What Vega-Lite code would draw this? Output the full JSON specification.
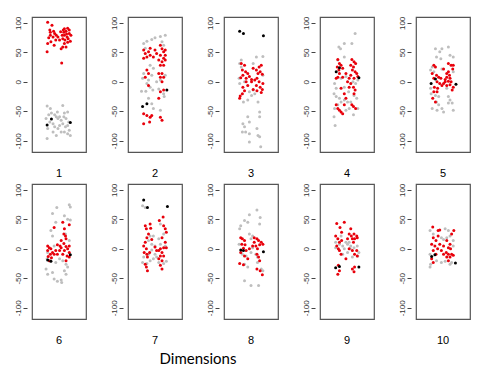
{
  "$schema": "https://vega.github.io/schema/vega-lite/v6.json",
  "padding": {"left": 13, "top": 15, "right": 5, "bottom": 5},
  "background": "white",
  "title": {"text": "Dimensions", "orient": "bottom", "anchor": "middle", "dx": -44, "font": "Lato", "fontSize": 15, "fontWeight": "normal", "color": "#000000", "offset": 5},
  "data": {"values": [
    {"d":1,"c":"g","x":0.28,"y":-41},{"d":1,"c":"g","x":0.34,"y":-45},{"d":1,"c":"g","x":0.57,"y":-40},{"d":1,"c":"g","x":0.66,"y":-51},{"d":1,"c":"g","x":0.36,"y":-53},{"d":1,"c":"g","x":0.42,"y":-56},{"d":1,"c":"g","x":0.45,"y":-59},{"d":1,"c":"g","x":0.48,"y":-62},{"d":1,"c":"g","x":0.51,"y":-59},{"d":1,"c":"g","x":0.54,"y":-65},{"d":1,"c":"g","x":0.60,"y":-53},{"d":1,"c":"g","x":0.63,"y":-62},{"d":1,"c":"g","x":0.57,"y":-71},{"d":1,"c":"g","x":0.62,"y":-76},{"d":1,"c":"g","x":0.66,"y":-74},{"d":1,"c":"g","x":0.69,"y":-82},{"d":1,"c":"g","x":0.71,"y":-91},{"d":1,"c":"g","x":0.54,"y":-85},{"d":1,"c":"g","x":0.48,"y":-79},{"d":1,"c":"g","x":0.42,"y":-76},{"d":1,"c":"g","x":0.39,"y":-85},{"d":1,"c":"g","x":0.29,"y":-79},{"d":1,"c":"g","x":0.28,"y":-96},{"d":1,"c":"g","x":0.45,"y":-91},{"d":1,"c":"g","x":0.33,"y":-68},{"d":1,"c":"g","x":0.26,"y":-62},{"d":1,"c":"g","x":0.39,"y":-71},{"d":1,"c":"g","x":0.51,"y":-74},{"d":1,"c":"g","x":0.60,"y":-85},{"d":1,"c":"g","x":0.66,"y":-88},{"d":1,"c":"g","x":0.47,"y":-51},{"d":1,"c":"g","x":0.59,"y":-59},{"d":1,"c":"g","x":0.68,"y":-68},{"d":1,"c":"g","x":0.31,"y":-56},
    {"d":1,"c":"r","x":0.29,"y":101},{"d":1,"c":"r","x":0.37,"y":96},{"d":1,"c":"r","x":0.33,"y":88},{"d":1,"c":"r","x":0.40,"y":86},{"d":1,"c":"r","x":0.42,"y":82},{"d":1,"c":"r","x":0.34,"y":79},{"d":1,"c":"r","x":0.31,"y":75},{"d":1,"c":"r","x":0.39,"y":76},{"d":1,"c":"r","x":0.45,"y":79},{"d":1,"c":"r","x":0.35,"y":68},{"d":1,"c":"r","x":0.41,"y":62},{"d":1,"c":"r","x":0.29,"y":65},{"d":1,"c":"r","x":0.28,"y":51},{"d":1,"c":"r","x":0.51,"y":71},{"d":1,"c":"r","x":0.53,"y":85},{"d":1,"c":"r","x":0.58,"y":88},{"d":1,"c":"r","x":0.60,"y":90},{"d":1,"c":"r","x":0.63,"y":86},{"d":1,"c":"r","x":0.66,"y":91},{"d":1,"c":"r","x":0.69,"y":88},{"d":1,"c":"r","x":0.60,"y":79},{"d":1,"c":"r","x":0.65,"y":76},{"d":1,"c":"r","x":0.57,"y":73},{"d":1,"c":"r","x":0.61,"y":71},{"d":1,"c":"r","x":0.67,"y":73},{"d":1,"c":"r","x":0.71,"y":69},{"d":1,"c":"r","x":0.66,"y":67},{"d":1,"c":"r","x":0.60,"y":65},{"d":1,"c":"r","x":0.57,"y":59},{"d":1,"c":"r","x":0.63,"y":59},{"d":1,"c":"r","x":0.54,"y":56},{"d":1,"c":"r","x":0.55,"y":32},{"d":1,"c":"r","x":0.48,"y":76},{"d":1,"c":"r","x":0.44,"y":71},{"d":1,"c":"r","x":0.34,"y":84},{"d":1,"c":"r","x":0.69,"y":82},{"d":1,"c":"r","x":0.56,"y":79},{"d":1,"c":"r","x":0.72,"y":79},{"d":1,"c":"r","x":0.64,"y":81},{"d":1,"c":"r","x":0.59,"y":84},
    {"d":1,"c":"k","x":0.28,"y":-73},{"d":1,"c":"k","x":0.36,"y":-63},{"d":1,"c":"k","x":0.71,"y":-69},

    {"d":2,"c":"g","x":0.29,"y":65},{"d":2,"c":"g","x":0.35,"y":69},{"d":2,"c":"g","x":0.44,"y":72},{"d":2,"c":"g","x":0.50,"y":75},{"d":2,"c":"g","x":0.60,"y":77},{"d":2,"c":"g","x":0.69,"y":79},{"d":2,"c":"g","x":0.66,"y":62},{"d":2,"c":"g","x":0.63,"y":68},{"d":2,"c":"g","x":0.32,"y":57},{"d":2,"c":"g","x":0.41,"y":28},{"d":2,"c":"g","x":0.47,"y":23},{"d":2,"c":"g","x":0.29,"y":14},{"d":2,"c":"g","x":0.27,"y":6},{"d":2,"c":"g","x":0.38,"y":3},{"d":2,"c":"g","x":0.44,"y":11},{"d":2,"c":"g","x":0.35,"y":-3},{"d":2,"c":"g","x":0.41,"y":-9},{"d":2,"c":"g","x":0.25,"y":-16},{"d":2,"c":"g","x":0.33,"y":-16},{"d":2,"c":"g","x":0.46,"y":-14},{"d":2,"c":"g","x":0.53,"y":0},{"d":2,"c":"g","x":0.60,"y":3},{"d":2,"c":"g","x":0.66,"y":-20},{"d":2,"c":"g","x":0.67,"y":-25},{"d":2,"c":"g","x":0.44,"y":-37},{"d":2,"c":"g","x":0.47,"y":-45},{"d":2,"c":"g","x":0.60,"y":-48},{"d":2,"c":"g","x":0.38,"y":-28},{"d":2,"c":"g","x":0.69,"y":11},{"d":2,"c":"g","x":0.57,"y":-12},
    {"d":2,"c":"r","x":0.29,"y":54},{"d":2,"c":"r","x":0.32,"y":48},{"d":2,"c":"r","x":0.35,"y":42},{"d":2,"c":"r","x":0.38,"y":51},{"d":2,"c":"r","x":0.41,"y":45},{"d":2,"c":"r","x":0.29,"y":40},{"d":2,"c":"r","x":0.50,"y":54},{"d":2,"c":"r","x":0.53,"y":48},{"d":2,"c":"r","x":0.60,"y":62},{"d":2,"c":"r","x":0.63,"y":56},{"d":2,"c":"r","x":0.66,"y":51},{"d":2,"c":"r","x":0.69,"y":54},{"d":2,"c":"r","x":0.60,"y":45},{"d":2,"c":"r","x":0.66,"y":40},{"d":2,"c":"r","x":0.63,"y":34},{"d":2,"c":"r","x":0.69,"y":37},{"d":2,"c":"r","x":0.57,"y":37},{"d":2,"c":"r","x":0.60,"y":28},{"d":2,"c":"r","x":0.66,"y":28},{"d":2,"c":"r","x":0.35,"y":20},{"d":2,"c":"r","x":0.38,"y":14},{"d":2,"c":"r","x":0.32,"y":8},{"d":2,"c":"r","x":0.57,"y":14},{"d":2,"c":"r","x":0.63,"y":14},{"d":2,"c":"r","x":0.66,"y":8},{"d":2,"c":"r","x":0.60,"y":8},{"d":2,"c":"r","x":0.63,"y":0},{"d":2,"c":"r","x":0.60,"y":-17},{"d":2,"c":"r","x":0.66,"y":-14},{"d":2,"c":"r","x":0.38,"y":-6},{"d":2,"c":"r","x":0.57,"y":-28},{"d":2,"c":"r","x":0.29,"y":-54},{"d":2,"c":"r","x":0.35,"y":-57},{"d":2,"c":"r","x":0.41,"y":-60},{"d":2,"c":"r","x":0.44,"y":-57},{"d":2,"c":"r","x":0.60,"y":-60},{"d":2,"c":"r","x":0.63,"y":-65},{"d":2,"c":"r","x":0.29,"y":-71},{"d":2,"c":"r","x":0.40,"y":-68},{"d":2,"c":"r","x":0.47,"y":42},{"d":2,"c":"r","x":0.41,"y":57},{"d":2,"c":"r","x":0.69,"y":45},
    {"d":2,"c":"k","x":0.72,"y":-14},{"d":2,"c":"k","x":0.35,"y":-37},{"d":2,"c":"k","x":0.27,"y":-42},

    {"d":3,"c":"g","x":0.29,"y":31},{"d":3,"c":"g","x":0.32,"y":25},{"d":3,"c":"g","x":0.60,"y":42},{"d":3,"c":"g","x":0.72,"y":43},{"d":3,"c":"g","x":0.54,"y":31},{"d":3,"c":"g","x":0.38,"y":0},{"d":3,"c":"g","x":0.29,"y":-3},{"d":3,"c":"g","x":0.28,"y":6},{"d":3,"c":"g","x":0.47,"y":-17},{"d":3,"c":"g","x":0.54,"y":-14},{"d":3,"c":"g","x":0.57,"y":-20},{"d":3,"c":"g","x":0.36,"y":-34},{"d":3,"c":"g","x":0.44,"y":-31},{"d":3,"c":"g","x":0.63,"y":-34},{"d":3,"c":"g","x":0.66,"y":-51},{"d":3,"c":"g","x":0.66,"y":-59},{"d":3,"c":"g","x":0.44,"y":-59},{"d":3,"c":"g","x":0.47,"y":-68},{"d":3,"c":"g","x":0.35,"y":-71},{"d":3,"c":"g","x":0.38,"y":-76},{"d":3,"c":"g","x":0.34,"y":-85},{"d":3,"c":"g","x":0.40,"y":-85},{"d":3,"c":"g","x":0.47,"y":-88},{"d":3,"c":"g","x":0.61,"y":-79},{"d":3,"c":"g","x":0.63,"y":-91},{"d":3,"c":"g","x":0.66,"y":-93},{"d":3,"c":"g","x":0.47,"y":-102},{"d":3,"c":"g","x":0.68,"y":-110},{"d":3,"c":"g","x":0.72,"y":11},{"d":3,"c":"g","x":0.32,"y":37},{"d":3,"c":"g","x":0.51,"y":-23},
    {"d":3,"c":"r","x":0.32,"y":31},{"d":3,"c":"r","x":0.38,"y":28},{"d":3,"c":"r","x":0.34,"y":20},{"d":3,"c":"r","x":0.40,"y":17},{"d":3,"c":"r","x":0.44,"y":14},{"d":3,"c":"r","x":0.35,"y":11},{"d":3,"c":"r","x":0.31,"y":7},{"d":3,"c":"r","x":0.41,"y":6},{"d":3,"c":"r","x":0.47,"y":9},{"d":3,"c":"r","x":0.54,"y":23},{"d":3,"c":"r","x":0.60,"y":20},{"d":3,"c":"r","x":0.63,"y":14},{"d":3,"c":"r","x":0.67,"y":17},{"d":3,"c":"r","x":0.71,"y":13},{"d":3,"c":"r","x":0.65,"y":25},{"d":3,"c":"r","x":0.69,"y":28},{"d":3,"c":"r","x":0.61,"y":6},{"d":3,"c":"r","x":0.65,"y":0},{"d":3,"c":"r","x":0.60,"y":-6},{"d":3,"c":"r","x":0.67,"y":-9},{"d":3,"c":"r","x":0.71,"y":-13},{"d":3,"c":"r","x":0.61,"y":-15},{"d":3,"c":"r","x":0.69,"y":-18},{"d":3,"c":"r","x":0.51,"y":0},{"d":3,"c":"r","x":0.44,"y":-6},{"d":3,"c":"r","x":0.35,"y":-9},{"d":3,"c":"r","x":0.38,"y":-15},{"d":3,"c":"r","x":0.34,"y":-20},{"d":3,"c":"r","x":0.30,"y":-24},{"d":3,"c":"r","x":0.29,"y":-28},{"d":3,"c":"r","x":0.51,"y":4},{"d":3,"c":"r","x":0.57,"y":3},{"d":3,"c":"r","x":0.72,"y":-3},{"d":3,"c":"r","x":0.54,"y":-13},{"d":3,"c":"r","x":0.41,"y":0},
    {"d":3,"c":"k","x":0.29,"y":86},{"d":3,"c":"k","x":0.36,"y":82},{"d":3,"c":"k","x":0.73,"y":78},

    {"d":4,"c":"g","x":0.65,"y":82},{"d":4,"c":"g","x":0.45,"y":65},{"d":4,"c":"g","x":0.59,"y":65},{"d":4,"c":"g","x":0.35,"y":59},{"d":4,"c":"g","x":0.38,"y":56},{"d":4,"c":"g","x":0.45,"y":42},{"d":4,"c":"g","x":0.33,"y":37},{"d":4,"c":"g","x":0.27,"y":-3},{"d":4,"c":"g","x":0.30,"y":-11},{"d":4,"c":"g","x":0.26,"y":-20},{"d":4,"c":"g","x":0.30,"y":-25},{"d":4,"c":"g","x":0.36,"y":-28},{"d":4,"c":"g","x":0.39,"y":-34},{"d":4,"c":"g","x":0.45,"y":-31},{"d":4,"c":"g","x":0.51,"y":-34},{"d":4,"c":"g","x":0.33,"y":-39},{"d":4,"c":"g","x":0.27,"y":-45},{"d":4,"c":"g","x":0.26,"y":-59},{"d":4,"c":"g","x":0.28,"y":-74},{"d":4,"c":"g","x":0.48,"y":-48},{"d":4,"c":"g","x":0.54,"y":-45},{"d":4,"c":"g","x":0.62,"y":-56},{"d":4,"c":"g","x":0.57,"y":-34},{"d":4,"c":"g","x":0.63,"y":-23},{"d":4,"c":"g","x":0.68,"y":-28},{"d":4,"c":"g","x":0.70,"y":-45},{"d":4,"c":"g","x":0.66,"y":-3},{"d":4,"c":"g","x":0.61,"y":0},{"d":4,"c":"g","x":0.70,"y":3},{"d":4,"c":"g","x":0.45,"y":-9},{"d":4,"c":"g","x":0.39,"y":6},{"d":4,"c":"g","x":0.48,"y":9},{"d":4,"c":"g","x":0.53,"y":-17},
    {"d":4,"c":"r","x":0.33,"y":38},{"d":4,"c":"r","x":0.36,"y":31},{"d":4,"c":"r","x":0.32,"y":25},{"d":4,"c":"r","x":0.39,"y":28},{"d":4,"c":"r","x":0.42,"y":23},{"d":4,"c":"r","x":0.36,"y":14},{"d":4,"c":"r","x":0.33,"y":8},{"d":4,"c":"r","x":0.30,"y":6},{"d":4,"c":"r","x":0.42,"y":8},{"d":4,"c":"r","x":0.48,"y":14},{"d":4,"c":"r","x":0.54,"y":6},{"d":4,"c":"r","x":0.57,"y":-3},{"d":4,"c":"r","x":0.62,"y":-9},{"d":4,"c":"r","x":0.65,"y":-14},{"d":4,"c":"r","x":0.63,"y":-20},{"d":4,"c":"r","x":0.59,"y":38},{"d":4,"c":"r","x":0.63,"y":34},{"d":4,"c":"r","x":0.57,"y":28},{"d":4,"c":"r","x":0.62,"y":25},{"d":4,"c":"r","x":0.66,"y":31},{"d":4,"c":"r","x":0.60,"y":20},{"d":4,"c":"r","x":0.65,"y":17},{"d":4,"c":"r","x":0.68,"y":14},{"d":4,"c":"r","x":0.70,"y":9},{"d":4,"c":"r","x":0.57,"y":11},{"d":4,"c":"r","x":0.51,"y":0},{"d":4,"c":"r","x":0.30,"y":-39},{"d":4,"c":"r","x":0.33,"y":-45},{"d":4,"c":"r","x":0.36,"y":-48},{"d":4,"c":"r","x":0.39,"y":-51},{"d":4,"c":"r","x":0.42,"y":-54},{"d":4,"c":"r","x":0.45,"y":-39},{"d":4,"c":"r","x":0.59,"y":-39},{"d":4,"c":"r","x":0.62,"y":-42},{"d":4,"c":"r","x":0.66,"y":-45},{"d":4,"c":"r","x":0.54,"y":-9},{"d":4,"c":"r","x":0.45,"y":-20},{"d":4,"c":"r","x":0.48,"y":-28},{"d":4,"c":"r","x":0.39,"y":-11},{"d":4,"c":"r","x":0.63,"y":6},{"d":4,"c":"r","x":0.35,"y":20},
    {"d":4,"c":"k","x":0.30,"y":17},{"d":4,"c":"k","x":0.36,"y":24},{"d":4,"c":"k","x":0.72,"y":7},

    {"d":5,"c":"g","x":0.36,"y":56},{"d":5,"c":"g","x":0.44,"y":51},{"d":5,"c":"g","x":0.48,"y":56},{"d":5,"c":"g","x":0.60,"y":59},{"d":5,"c":"g","x":0.38,"y":42},{"d":5,"c":"g","x":0.46,"y":39},{"d":5,"c":"g","x":0.63,"y":45},{"d":5,"c":"g","x":0.69,"y":42},{"d":5,"c":"g","x":0.30,"y":25},{"d":5,"c":"g","x":0.27,"y":20},{"d":5,"c":"g","x":0.33,"y":17},{"d":5,"c":"g","x":0.27,"y":-11},{"d":5,"c":"g","x":0.28,"y":-20},{"d":5,"c":"g","x":0.36,"y":-23},{"d":5,"c":"g","x":0.42,"y":-25},{"d":5,"c":"g","x":0.38,"y":-34},{"d":5,"c":"g","x":0.42,"y":-39},{"d":5,"c":"g","x":0.30,"y":-45},{"d":5,"c":"g","x":0.39,"y":-48},{"d":5,"c":"g","x":0.48,"y":-45},{"d":5,"c":"g","x":0.51,"y":-51},{"d":5,"c":"g","x":0.60,"y":-25},{"d":5,"c":"g","x":0.63,"y":-31},{"d":5,"c":"g","x":0.67,"y":-36},{"d":5,"c":"g","x":0.60,"y":-36},{"d":5,"c":"g","x":0.69,"y":-48},{"d":5,"c":"g","x":0.57,"y":-11},{"d":5,"c":"g","x":0.48,"y":22},{"d":5,"c":"g","x":0.69,"y":17},
    {"d":5,"c":"r","x":0.33,"y":28},{"d":5,"c":"r","x":0.36,"y":25},{"d":5,"c":"r","x":0.30,"y":14},{"d":5,"c":"r","x":0.38,"y":11},{"d":5,"c":"r","x":0.42,"y":8},{"d":5,"c":"r","x":0.33,"y":6},{"d":5,"c":"r","x":0.39,"y":0},{"d":5,"c":"r","x":0.44,"y":-3},{"d":5,"c":"r","x":0.34,"y":-9},{"d":5,"c":"r","x":0.40,"y":-11},{"d":5,"c":"r","x":0.33,"y":-17},{"d":5,"c":"r","x":0.39,"y":-17},{"d":5,"c":"r","x":0.31,"y":-28},{"d":5,"c":"r","x":0.36,"y":-34},{"d":5,"c":"r","x":0.51,"y":22},{"d":5,"c":"r","x":0.60,"y":31},{"d":5,"c":"r","x":0.65,"y":28},{"d":5,"c":"r","x":0.69,"y":28},{"d":5,"c":"r","x":0.68,"y":22},{"d":5,"c":"r","x":0.57,"y":14},{"d":5,"c":"r","x":0.62,"y":11},{"d":5,"c":"r","x":0.57,"y":8},{"d":5,"c":"r","x":0.63,"y":6},{"d":5,"c":"r","x":0.60,"y":1},{"d":5,"c":"r","x":0.54,"y":0},{"d":5,"c":"r","x":0.65,"y":0},{"d":5,"c":"r","x":0.63,"y":-5},{"d":5,"c":"r","x":0.57,"y":-6},{"d":5,"c":"r","x":0.51,"y":-3},{"d":5,"c":"r","x":0.69,"y":-9},{"d":5,"c":"r","x":0.67,"y":-14},{"d":5,"c":"r","x":0.48,"y":-6},{"d":5,"c":"r","x":0.54,"y":4},{"d":5,"c":"r","x":0.60,"y":17},{"d":5,"c":"r","x":0.46,"y":6},
    {"d":5,"c":"k","x":0.28,"y":-3},{"d":5,"c":"k","x":0.36,"y":5},{"d":5,"c":"k","x":0.74,"y":-4},

    {"d":6,"c":"g","x":0.46,"y":70},{"d":6,"c":"g","x":0.69,"y":75},{"d":6,"c":"g","x":0.71,"y":71},{"d":6,"c":"g","x":0.38,"y":60},{"d":6,"c":"g","x":0.60,"y":56},{"d":6,"c":"g","x":0.44,"y":45},{"d":6,"c":"g","x":0.66,"y":50},{"d":6,"c":"g","x":0.71,"y":49},{"d":6,"c":"g","x":0.35,"y":31},{"d":6,"c":"g","x":0.38,"y":22},{"d":6,"c":"g","x":0.29,"y":-6},{"d":6,"c":"g","x":0.28,"y":-17},{"d":6,"c":"g","x":0.35,"y":-20},{"d":6,"c":"g","x":0.44,"y":-23},{"d":6,"c":"g","x":0.51,"y":-17},{"d":6,"c":"g","x":0.57,"y":-20},{"d":6,"c":"g","x":0.63,"y":-26},{"d":6,"c":"g","x":0.26,"y":-34},{"d":6,"c":"g","x":0.29,"y":-43},{"d":6,"c":"g","x":0.38,"y":-40},{"d":6,"c":"g","x":0.41,"y":-51},{"d":6,"c":"g","x":0.47,"y":-55},{"d":6,"c":"g","x":0.54,"y":-53},{"d":6,"c":"g","x":0.55,"y":-57},{"d":6,"c":"g","x":0.60,"y":-37},{"d":6,"c":"g","x":0.63,"y":-43},{"d":6,"c":"g","x":0.66,"y":-31},{"d":6,"c":"g","x":0.69,"y":14},{"d":6,"c":"g","x":0.62,"y":25},{"d":6,"c":"g","x":0.41,"y":5},
    {"d":6,"c":"r","x":0.41,"y":36},{"d":6,"c":"r","x":0.57,"y":45},{"d":6,"c":"r","x":0.69,"y":41},{"d":6,"c":"r","x":0.60,"y":34},{"d":6,"c":"r","x":0.59,"y":25},{"d":6,"c":"r","x":0.62,"y":22},{"d":6,"c":"r","x":0.63,"y":17},{"d":6,"c":"r","x":0.54,"y":14},{"d":6,"c":"r","x":0.59,"y":9},{"d":6,"c":"r","x":0.52,"y":5},{"d":6,"c":"r","x":0.63,"y":4},{"d":6,"c":"r","x":0.69,"y":5},{"d":6,"c":"r","x":0.66,"y":0},{"d":6,"c":"r","x":0.60,"y":-3},{"d":6,"c":"r","x":0.69,"y":-6},{"d":6,"c":"r","x":0.65,"y":-12},{"d":6,"c":"r","x":0.69,"y":-14},{"d":6,"c":"r","x":0.63,"y":-20},{"d":6,"c":"r","x":0.57,"y":-9},{"d":6,"c":"r","x":0.51,"y":-3},{"d":6,"c":"r","x":0.47,"y":-9},{"d":6,"c":"r","x":0.29,"y":5},{"d":6,"c":"r","x":0.32,"y":2},{"d":6,"c":"r","x":0.35,"y":0},{"d":6,"c":"r","x":0.29,"y":-3},{"d":6,"c":"r","x":0.38,"y":-6},{"d":6,"c":"r","x":0.34,"y":-9},{"d":6,"c":"r","x":0.41,"y":-9},{"d":6,"c":"r","x":0.30,"y":-13},{"d":6,"c":"r","x":0.36,"y":-15},{"d":6,"c":"r","x":0.44,"y":-3},{"d":6,"c":"r","x":0.32,"y":-20},{"d":6,"c":"r","x":0.54,"y":2},{"d":6,"c":"r","x":0.47,"y":7},
    {"d":6,"c":"k","x":0.29,"y":-19},{"d":6,"c":"k","x":0.35,"y":-21},{"d":6,"c":"k","x":0.71,"y":-10},

    {"d":7,"c":"g","x":0.27,"y":73},{"d":7,"c":"g","x":0.32,"y":70},{"d":7,"c":"g","x":0.47,"y":22},{"d":7,"c":"g","x":0.57,"y":17},{"d":7,"c":"g","x":0.66,"y":25},{"d":7,"c":"g","x":0.38,"y":14},{"d":7,"c":"g","x":0.44,"y":8},{"d":7,"c":"g","x":0.50,"y":5},{"d":7,"c":"g","x":0.60,"y":8},{"d":7,"c":"g","x":0.69,"y":5},{"d":7,"c":"g","x":0.29,"y":-14},{"d":7,"c":"g","x":0.27,"y":-23},{"d":7,"c":"g","x":0.35,"y":-25},{"d":7,"c":"g","x":0.41,"y":-20},{"d":7,"c":"g","x":0.47,"y":-17},{"d":7,"c":"g","x":0.53,"y":-14},{"d":7,"c":"g","x":0.57,"y":-23},{"d":7,"c":"g","x":0.66,"y":-25},{"d":7,"c":"g","x":0.71,"y":-21},{"d":7,"c":"g","x":0.38,"y":-9},{"d":7,"c":"g","x":0.44,"y":-2},{"d":7,"c":"g","x":0.50,"y":-9},{"d":7,"c":"g","x":0.41,"y":22},{"d":7,"c":"g","x":0.60,"y":42},
    {"d":7,"c":"r","x":0.32,"y":39},{"d":7,"c":"r","x":0.34,"y":34},{"d":7,"c":"r","x":0.41,"y":42},{"d":7,"c":"r","x":0.42,"y":35},{"d":7,"c":"r","x":0.38,"y":25},{"d":7,"c":"r","x":0.35,"y":19},{"d":7,"c":"r","x":0.32,"y":11},{"d":7,"c":"r","x":0.29,"y":5},{"d":7,"c":"r","x":0.34,"y":0},{"d":7,"c":"r","x":0.30,"y":-6},{"d":7,"c":"r","x":0.35,"y":-9},{"d":7,"c":"r","x":0.40,"y":-6},{"d":7,"c":"r","x":0.36,"y":-14},{"d":7,"c":"r","x":0.32,"y":-26},{"d":7,"c":"r","x":0.34,"y":-31},{"d":7,"c":"r","x":0.36,"y":-37},{"d":7,"c":"r","x":0.65,"y":54},{"d":7,"c":"r","x":0.66,"y":39},{"d":7,"c":"r","x":0.69,"y":34},{"d":7,"c":"r","x":0.71,"y":28},{"d":7,"c":"r","x":0.63,"y":19},{"d":7,"c":"r","x":0.69,"y":11},{"d":7,"c":"r","x":0.66,"y":2},{"d":7,"c":"r","x":0.71,"y":2},{"d":7,"c":"r","x":0.60,"y":0},{"d":7,"c":"r","x":0.57,"y":-3},{"d":7,"c":"r","x":0.63,"y":-6},{"d":7,"c":"r","x":0.60,"y":-12},{"d":7,"c":"r","x":0.66,"y":-12},{"d":7,"c":"r","x":0.57,"y":-17},{"d":7,"c":"r","x":0.63,"y":-20},{"d":7,"c":"r","x":0.60,"y":-28},{"d":7,"c":"r","x":0.63,"y":-34},{"d":7,"c":"r","x":0.53,"y":-3},{"d":7,"c":"r","x":0.50,"y":3},{"d":7,"c":"r","x":0.44,"y":16},{"d":7,"c":"r","x":0.58,"y":48},
    {"d":7,"c":"k","x":0.29,"y":83},{"d":7,"c":"k","x":0.36,"y":70},{"d":7,"c":"k","x":0.73,"y":72},

    {"d":8,"c":"g","x":0.61,"y":66},{"d":8,"c":"g","x":0.67,"y":53},{"d":8,"c":"g","x":0.47,"y":58},{"d":8,"c":"g","x":0.38,"y":48},{"d":8,"c":"g","x":0.31,"y":39},{"d":8,"c":"g","x":0.29,"y":34},{"d":8,"c":"g","x":0.44,"y":45},{"d":8,"c":"g","x":0.66,"y":42},{"d":8,"c":"g","x":0.47,"y":25},{"d":8,"c":"g","x":0.53,"y":22},{"d":8,"c":"g","x":0.50,"y":17},{"d":8,"c":"g","x":0.28,"y":8},{"d":8,"c":"g","x":0.34,"y":-9},{"d":8,"c":"g","x":0.41,"y":-12},{"d":8,"c":"g","x":0.50,"y":-6},{"d":8,"c":"g","x":0.59,"y":-9},{"d":8,"c":"g","x":0.62,"y":-14},{"d":8,"c":"g","x":0.38,"y":-26},{"d":8,"c":"g","x":0.44,"y":-31},{"d":8,"c":"g","x":0.69,"y":-34},{"d":8,"c":"g","x":0.72,"y":-37},{"d":8,"c":"g","x":0.62,"y":-23},{"d":8,"c":"g","x":0.38,"y":-54},{"d":8,"c":"g","x":0.50,"y":-62},{"d":8,"c":"g","x":0.64,"y":-62},{"d":8,"c":"g","x":0.53,"y":2},
    {"d":8,"c":"r","x":0.31,"y":19},{"d":8,"c":"r","x":0.34,"y":17},{"d":8,"c":"r","x":0.38,"y":14},{"d":8,"c":"r","x":0.33,"y":8},{"d":8,"c":"r","x":0.39,"y":7},{"d":8,"c":"r","x":0.36,"y":1},{"d":8,"c":"r","x":0.41,"y":-3},{"d":8,"c":"r","x":0.31,"y":-6},{"d":8,"c":"r","x":0.38,"y":-12},{"d":8,"c":"r","x":0.44,"y":-17},{"d":8,"c":"r","x":0.29,"y":-25},{"d":8,"c":"r","x":0.36,"y":-27},{"d":8,"c":"r","x":0.56,"y":19},{"d":8,"c":"r","x":0.61,"y":17},{"d":8,"c":"r","x":0.64,"y":14},{"d":8,"c":"r","x":0.69,"y":11},{"d":8,"c":"r","x":0.72,"y":8},{"d":8,"c":"r","x":0.66,"y":7},{"d":8,"c":"r","x":0.59,"y":5},{"d":8,"c":"r","x":0.56,"y":11},{"d":8,"c":"r","x":0.62,"y":0},{"d":8,"c":"r","x":0.61,"y":-9},{"d":8,"c":"r","x":0.64,"y":-14},{"d":8,"c":"r","x":0.66,"y":-20},{"d":8,"c":"r","x":0.61,"y":-34},{"d":8,"c":"r","x":0.67,"y":-37},{"d":8,"c":"r","x":0.71,"y":-44},{"d":8,"c":"r","x":0.53,"y":5},{"d":8,"c":"r","x":0.47,"y":0},
    {"d":8,"c":"k","x":0.31,"y":-2},{"d":8,"c":"k","x":0.36,"y":-3},{"d":8,"c":"k","x":0.73,"y":-5},

    {"d":9,"c":"g","x":0.29,"y":11},{"d":9,"c":"g","x":0.36,"y":8},{"d":9,"c":"g","x":0.42,"y":5},{"d":9,"c":"g","x":0.48,"y":11},{"d":9,"c":"g","x":0.51,"y":8},{"d":9,"c":"g","x":0.54,"y":11},{"d":9,"c":"g","x":0.57,"y":5},{"d":9,"c":"g","x":0.63,"y":2},{"d":9,"c":"g","x":0.69,"y":5},{"d":9,"c":"g","x":0.29,"y":2},{"d":9,"c":"g","x":0.45,"y":0},{"d":9,"c":"g","x":0.42,"y":-9},{"d":9,"c":"g","x":0.51,"y":-6},{"d":9,"c":"g","x":0.60,"y":-14},{"d":9,"c":"g","x":0.72,"y":-6},{"d":9,"c":"g","x":0.70,"y":-12},{"d":9,"c":"g","x":0.56,"y":0},{"d":9,"c":"g","x":0.39,"y":22},
    {"d":9,"c":"r","x":0.31,"y":43},{"d":9,"c":"r","x":0.45,"y":45},{"d":9,"c":"r","x":0.37,"y":36},{"d":9,"c":"r","x":0.40,"y":28},{"d":9,"c":"r","x":0.29,"y":22},{"d":9,"c":"r","x":0.33,"y":17},{"d":9,"c":"r","x":0.36,"y":11},{"d":9,"c":"r","x":0.40,"y":14},{"d":9,"c":"r","x":0.31,"y":5},{"d":9,"c":"r","x":0.36,"y":-3},{"d":9,"c":"r","x":0.39,"y":-9},{"d":9,"c":"r","x":0.34,"y":0},{"d":9,"c":"r","x":0.57,"y":34},{"d":9,"c":"r","x":0.54,"y":25},{"d":9,"c":"r","x":0.58,"y":22},{"d":9,"c":"r","x":0.63,"y":25},{"d":9,"c":"r","x":0.68,"y":22},{"d":9,"c":"r","x":0.60,"y":17},{"d":9,"c":"r","x":0.64,"y":17},{"d":9,"c":"r","x":0.69,"y":19},{"d":9,"c":"r","x":0.62,"y":11},{"d":9,"c":"r","x":0.54,"y":0},{"d":9,"c":"r","x":0.60,"y":-3},{"d":9,"c":"r","x":0.64,"y":-9},{"d":9,"c":"r","x":0.68,"y":-3},{"d":9,"c":"r","x":0.69,"y":-12},{"d":9,"c":"r","x":0.34,"y":-28},{"d":9,"c":"r","x":0.36,"y":-37},{"d":9,"c":"r","x":0.33,"y":-43},{"d":9,"c":"r","x":0.60,"y":-34},{"d":9,"c":"r","x":0.63,"y":-39},{"d":9,"c":"r","x":0.64,"y":-31},{"d":9,"c":"r","x":0.48,"y":-17},{"d":9,"c":"r","x":0.51,"y":17},
    {"d":9,"c":"k","x":0.29,"y":-32},{"d":9,"c":"k","x":0.36,"y":-30},{"d":9,"c":"k","x":0.72,"y":-31},

    {"d":10,"c":"g","x":0.26,"y":31},{"d":10,"c":"g","x":0.32,"y":25},{"d":10,"c":"g","x":0.54,"y":34},{"d":10,"c":"g","x":0.60,"y":31},{"d":10,"c":"g","x":0.63,"y":22},{"d":10,"c":"g","x":0.57,"y":19},{"d":10,"c":"g","x":0.47,"y":19},{"d":10,"c":"g","x":0.69,"y":14},{"d":10,"c":"g","x":0.69,"y":5},{"d":10,"c":"g","x":0.26,"y":-9},{"d":10,"c":"g","x":0.27,"y":-26},{"d":10,"c":"g","x":0.26,"y":-31},{"d":10,"c":"g","x":0.47,"y":-23},{"d":10,"c":"g","x":0.54,"y":-21},{"d":10,"c":"g","x":0.63,"y":-26},{"d":10,"c":"g","x":0.66,"y":-23},{"d":10,"c":"g","x":0.38,"y":-20},{"d":10,"c":"g","x":0.51,"y":16},
    {"d":10,"c":"r","x":0.31,"y":37},{"d":10,"c":"r","x":0.41,"y":31},{"d":10,"c":"r","x":0.44,"y":32},{"d":10,"c":"r","x":0.70,"y":31},{"d":10,"c":"r","x":0.66,"y":25},{"d":10,"c":"r","x":0.32,"y":19},{"d":10,"c":"r","x":0.37,"y":14},{"d":10,"c":"r","x":0.41,"y":22},{"d":10,"c":"r","x":0.29,"y":8},{"d":10,"c":"r","x":0.35,"y":5},{"d":10,"c":"r","x":0.40,"y":0},{"d":10,"c":"r","x":0.32,"y":-3},{"d":10,"c":"r","x":0.37,"y":-9},{"d":10,"c":"r","x":0.29,"y":-17},{"d":10,"c":"r","x":0.32,"y":-23},{"d":10,"c":"r","x":0.51,"y":5},{"d":10,"c":"r","x":0.57,"y":14},{"d":10,"c":"r","x":0.63,"y":8},{"d":10,"c":"r","x":0.60,"y":2},{"d":10,"c":"r","x":0.64,"y":0},{"d":10,"c":"r","x":0.56,"y":-6},{"d":10,"c":"r","x":0.60,"y":-9},{"d":10,"c":"r","x":0.66,"y":-9},{"d":10,"c":"r","x":0.63,"y":-14},{"d":10,"c":"r","x":0.69,"y":-11},{"d":10,"c":"r","x":0.57,"y":-14},{"d":10,"c":"r","x":0.60,"y":-20},{"d":10,"c":"r","x":0.51,"y":-9},{"d":10,"c":"r","x":0.47,"y":-3},{"d":10,"c":"r","x":0.44,"y":8},
    {"d":10,"c":"k","x":0.29,"y":-13},{"d":10,"c":"k","x":0.35,"y":-10},{"d":10,"c":"k","x":0.73,"y":-24}
  ]},
  "facet": {"field": "d", "type": "ordinal", "header": {"title": null, "labelOrient": "bottom", "labelPadding": 16, "labelFontSize": 11, "labelFont": "Liberation Sans", "labelColor": "#000000"}},
  "columns": 5,
  "spacing": {"row": 2, "column": 22},
  "resolve": {"axis": {"y": "independent"}},
  "spec": {
    "width": 54,
    "height": 135,
    "encoding": {
      "x": {"field": "x", "type": "quantitative", "scale": {"domain": [0, 1]}, "axis": null},
      "y": {"field": "y", "type": "quantitative", "scale": {"domain": [-119, 110], "nice": false, "zero": false},
            "axis": {"values": [-100, -50, 0, 50, 100], "labelExpr": "'' + datum.value", "title": null, "domain": false, "offset": 5, "tickSize": 4, "labelPadding": 1, "labelAngle": -90, "labelAlign": "center", "labelBaseline": "bottom", "labelFontSize": 8, "labelFont": "Liberation Sans", "labelColor": "#333333", "tickColor": "#444444", "grid": false, "labelOverlap": false}}
    },
    "layer": [
      {
        "transform": [{"aggregate": [{"op": "count", "as": "n"}], "groupby": ["d"]}],
        "mark": {"type": "rule", "color": "#444444", "strokeWidth": 1},
        "encoding": {
          "x": {"datum": -0.093, "type": "quantitative"},
          "y": {"datum": -100, "type": "quantitative"},
          "y2": {"datum": 100}
        }
      },
      {
        "mark": {"type": "circle", "size": 9, "opacity": 1},
        "encoding": {
          "color": {"field": "c", "type": "nominal", "scale": {"domain": ["g", "r", "k"], "range": ["#bebebe", "#e8000b", "#000000"]}, "legend": null}
        }
      }
    ]
  },
  "config": {"view": {"stroke": "#555555", "strokeWidth": 1.2}}
}
